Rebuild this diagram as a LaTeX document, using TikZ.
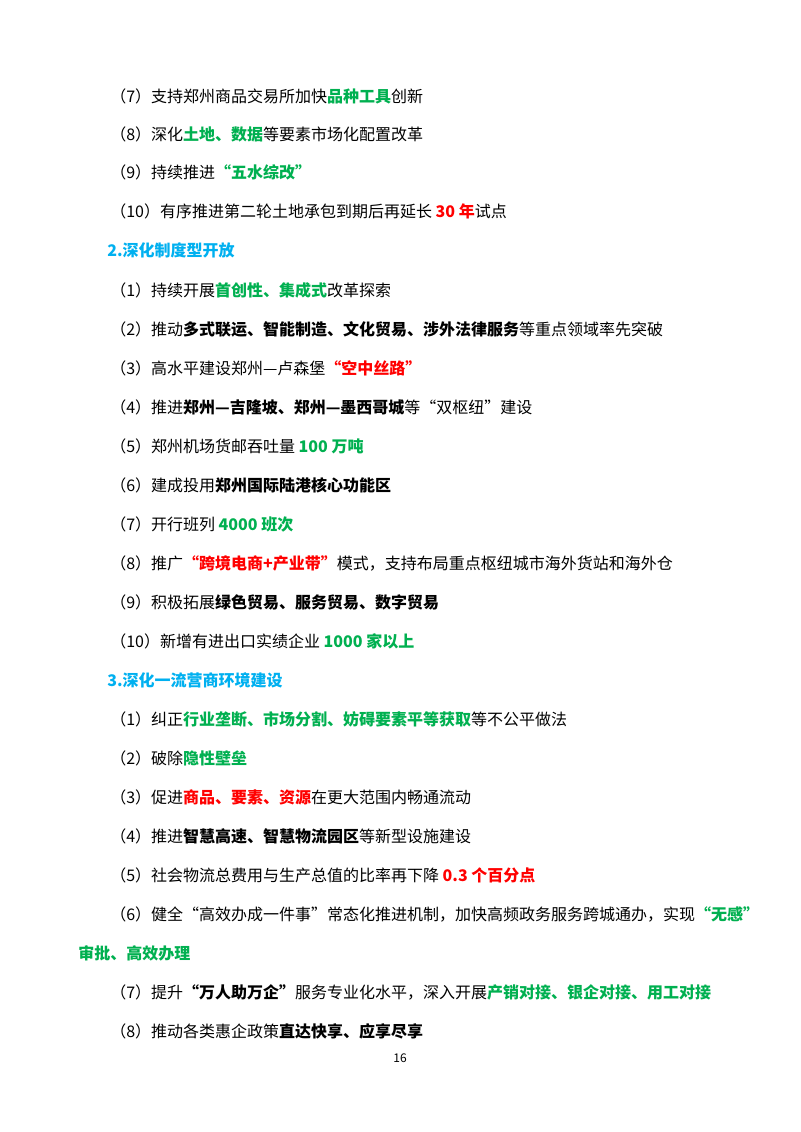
\documentclass[tikz,border=0pt]{standalone}
\usepackage{fontspec}
\setmainfont{Noto Sans CJK SC}
\definecolor{gn}{HTML}{00B050}
\definecolor{rdc}{HTML}{FF0000}
\definecolor{bl}{HTML}{00B0F0}
\newcommand{\gr}[1]{\textbf{\textcolor{gn}{#1}}}
\newcommand{\rd}[1]{\textbf{\textcolor{rdc}{#1}}}
\newcommand{\bk}[1]{\textbf{#1}}
\begin{document}
\begin{tikzpicture}[x=0.75pt,y=-0.75pt,
  t/.style={anchor=west,inner sep=0pt,font=\fontsize{12}{14}\selectfont},
  h/.style={t,font=\fontsize{12}{14}\selectfont\bfseries,text=bl}]
\useasboundingbox[fill=white] (0,0) rectangle (800,1132);
\node[t] (l1) at (110,96) {（7）支持郑州商品交易所加快\gr{品种工具}创新};
\node[t] (l2) at (110,134) {（8）深化\gr{土地、数据}等要素市场化配置改革};
\node[t] (l3) at (110,172) {（9）持续推进\gr{“五水综改”}};
\node[t] (l4) at (110,211) {（10）有序推进第二轮土地承包到期后再延长 \rd{30 年}试点};
\node[h] (h2) at (107,250) {2.深化制度型开放};
\node[t] (m1) at (110,290) {（1）持续开展\gr{首创性、集成式}改革探索};
\node[t] (m2) at (110,329) {（2）推动\bk{多式联运、智能制造、文化贸易、涉外法律服务}等重点领域率先突破};
\node[t] (m3) at (110,368) {（3）高水平建设郑州—卢森堡\rd{“空中丝路”}};
\node[t] (m4) at (110,407) {（4）推进\bk{郑州—吉隆坡、郑州—墨西哥城}等“双枢纽”建设};
\node[t] (m5) at (110,446) {（5）郑州机场货邮吞吐量 \gr{100 万吨}};
\node[t] (m6) at (110,485) {（6）建成投用\bk{郑州国际陆港核心功能区}};
\node[t] (m7) at (110,524) {（7）开行班列 \gr{4000 班次}};
\node[t] (m8) at (110,563) {（8）推广\rd{“跨境电商+产业带”}模式，支持布局重点枢纽城市海外货站和海外仓};
\node[t] (m9) at (110,602) {（9）积极拓展\bk{绿色贸易、服务贸易、数字贸易}};
\node[t] (m10) at (110,641) {（10）新增有进出口实绩企业 \gr{1000 家以上}};
\node[h] (h3) at (107,680) {3.深化一流营商环境建设};
\node[t] (n1) at (110,719) {（1）纠正\gr{行业垄断、市场分割、妨碍要素平等获取}等不公平做法};
\node[t] (n2) at (110,758) {（2）破除\gr{隐性壁垒}};
\node[t] (n3) at (110,797) {（3）促进\rd{商品、要素、资源}在更大范围内畅通流动};
\node[t] (n4) at (110,836) {（4）推进\bk{智慧高速、智慧物流园区}等新型设施建设};
\node[t] (n5) at (110,875) {（5）社会物流总费用与生产总值的比率再下降 \rd{0.3 个百分点}};
\node[t] (n6) at (110,914) {（6）健全“高效办成一件事”常态化推进机制，加快高频政务服务跨城通办，实现\gr{“无感”}};
\node[t] (n6b) at (78,953) {\gr{审批、高效办理}};
\node[t] (n7) at (110,992) {（7）提升\bk{“万人助万企”}服务专业化水平，深入开展\gr{产销对接、银企对接、用工对接}};
\node[t] (n8) at (110,1031) {（8）推动各类惠企政策\bk{直达快享、应享尽享}};
\node[inner sep=0pt,font=\fontsize{9}{10}\selectfont] (pg) at (400,1058) {16};
\end{tikzpicture}
\end{document}
